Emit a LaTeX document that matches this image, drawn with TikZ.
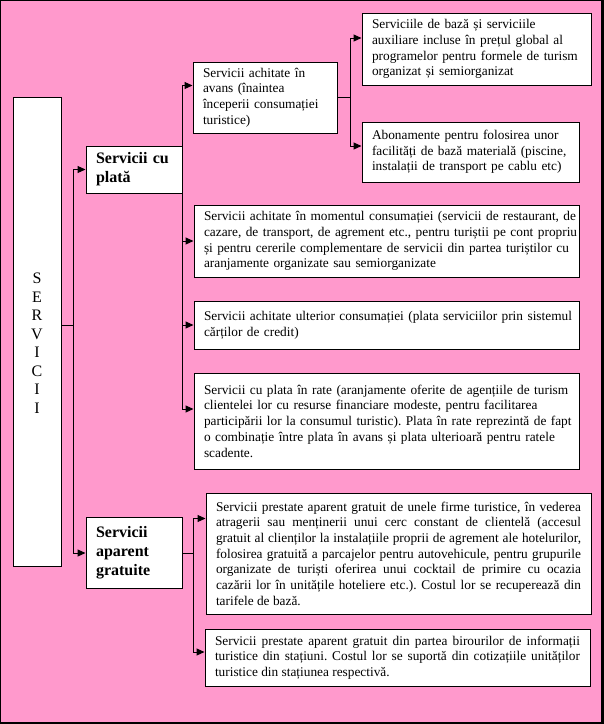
\documentclass[tikz,border=0pt]{standalone}
\usepackage{fontspec}
\setmainfont{Liberation Serif}
\usetikzlibrary{arrows.meta}
\definecolor{pinkbg}{HTML}{FF99CC}
\frenchspacing
\begin{document}
\begin{tikzpicture}[x=1pt,y=-1pt,
  every node/.style={inner sep=0pt},
  bx/.style={draw=black, fill=white, line width=1pt, inner xsep=10pt, inner ysep=2pt,
    align=left, font=\fontsize{13.33}{15.7}\selectfont\frenchspacing},
  jbx/.style={draw=black, fill=white, line width=1pt, inner xsep=10pt, inner ysep=2pt,
    align=justify, font=\fontsize{13.33}{15.7}\selectfont\frenchspacing},
  hd/.style={draw=black, fill=white, line width=1pt, inner xsep=10pt, inner ysep=2pt,
    align=left, font=\bfseries\fontsize{16}{19}\selectfont},
  ln/.style={line width=1pt},
  arr/.style={ln, -{Triangle[length=8pt,width=7pt]}}
]
\fill[black] (0,0) rectangle (604,724);
\fill[pinkbg] (1,1) rectangle (601,722);
\useasboundingbox (0,0) rectangle (604,724);

% nodes
\node[draw=black, fill=white, line width=1pt, minimum width=48pt, minimum height=469pt,
  label={[font=\fontsize{16}{18.5}\selectfont, align=center, yshift=-11.5pt]center:S\\E\\R\\V\\I\\C\\I\\I}]
  (A) at (37,331.5) {};

\node[hd, text width=76pt, minimum height=47pt] (B) at (134,169.5) {Servicii cu\\plată};
\node[hd, text width=76pt, minimum height=71pt] (C) at (134,553) {Servicii\\aparent\\gratuite};

\node[bx, text width=124pt, minimum height=71pt] (D) at (265,97.5)
  {\mbox{Servicii achitate în}\\\mbox{avans (înaintea}\\\mbox{începerii consumației}\\\mbox{turistice)}};

\node[bx, text width=209pt, minimum height=72pt] (E) at (476.5,49)
  {\mbox{Serviciile de bază și serviciile}\\\mbox{auxiliare incluse în prețul global al}\\\mbox{programelor pentru formele de turism}\\\mbox{organizat și semiorganizat}};

\node[bx, text width=197pt, minimum height=60pt] (F) at (470.5,152)
  {\mbox{Abonamente pentru folosirea unor}\\\mbox{facilități de bază materială (piscine,}\\\mbox{instalații de transport pe cablu etc)}};

\node[bx, text width=365pt, minimum height=72pt] (G) at (386.5,241)
  {\mbox{Servicii achitate în momentul consumației (servicii de restaurant, de}\\\mbox{cazare, de transport, de agrement etc., pentru turiștii pe cont propriu}\\\mbox{și pentru cererile complementare de servicii din partea turiștilor cu}\\\mbox{aranjamente organizate sau semiorganizate}};

\node[bx, text width=365pt, minimum height=48pt] (H) at (386.5,325)
  {\mbox{Servicii achitate ulterior consumației (plata serviciilor prin sistemul}\\\mbox{cărților de credit)}};

\node[bx, text width=365pt, minimum height=96pt] (I) at (386.5,421)
  {\mbox{Servicii cu plata în rate (aranjamente oferite de agențiile de turism}\\\mbox{clientelei lor cu resurse financiare modeste, pentru facilitarea}\\\mbox{participării lor la consumul turistic). Plata în rate reprezintă de fapt}\\\mbox{o combinație între plata în avans și plata ulterioară pentru ratele}\\\mbox{scadente.}};

\node[jbx, text width=365pt, minimum height=121pt] (J) at (398.5,553.5)
  {\tolerance=10000 Servicii prestate aparent gratuit de unele firme turistice, în vederea\linebreak
   atragerii sau menținerii unui cerc constant de clientelă (accesul\linebreak
   gratuit al clienților la instalațiile proprii de agrement ale hotelurilor,\linebreak
   folosirea gratuită a parcajelor pentru autovehicule, pentru grupurile\linebreak
   organizate de turiști oferirea unui cocktail de primire cu ocazia\linebreak
   cazării lor în unitățile hoteliere etc.). Costul lor se recuperează din\linebreak
   tarifele de bază.};

\node[jbx, text width=365pt, minimum height=57pt] (K) at (397.5,657.5)
  {\tolerance=10000 Servicii prestate aparent gratuit din partea birourilor de informații\linebreak
   turistice din stațiuni. Costul lor se suportă din cotizațiile unităților\linebreak
   turistice din stațiunea respectivă.};

% coordinates for connector ends
\coordinate (t1) at (73,325);
\coordinate (d0) at (0,85.5);
\coordinate (i0) at (0,409);
\coordinate (e0) at (0,38);
\coordinate (f0) at (0,146);
\coordinate (j0) at (0,518.5);
\coordinate (k0) at (0,652);

% connectors
\draw[ln] (A.east |- t1) -- (t1);
\draw[arr] (t1) |- (B.west);
\draw[arr] (t1) |- (C.west);

\draw[arr] (B.east) |- (D.west |- d0);
\draw[arr] (B.east) |- (G.west);
\draw[arr] (B.east) |- (H.west);
\draw[arr] (B.east) |- (I.west |- i0);

\draw[arr] (D.east) -- ++(13,0) |- (E.west |- e0);
\draw[arr] (D.east) -- ++(13,0) |- (F.west |- f0);

\draw[arr] (C.east) -- ++(11,0) |- (J.west |- j0);
\draw[arr] (C.east) -- ++(11,0) |- (K.west |- k0);
\end{tikzpicture}
\end{document}
